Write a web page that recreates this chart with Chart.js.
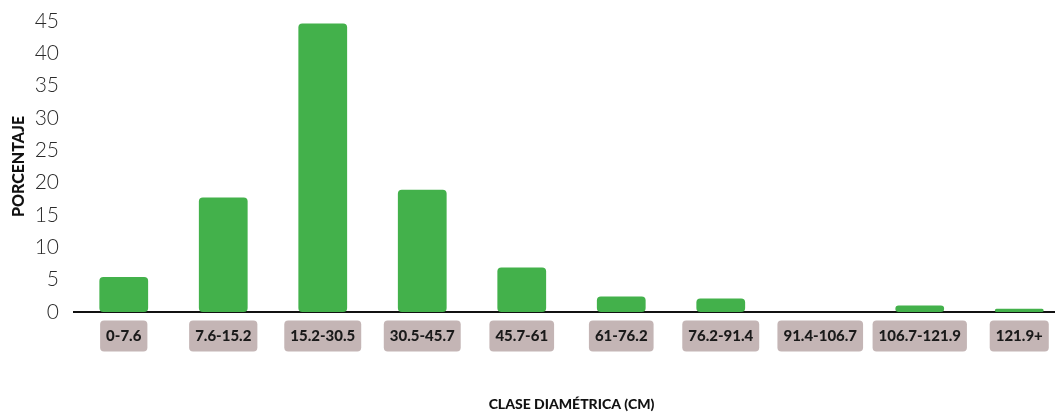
<!DOCTYPE html>
<html>
<head>
<meta charset="utf-8">
<script src="https://cdn.jsdelivr.net/npm/chart.js@4.4.0/dist/chart.umd.min.js"></script>
<style>
  html, body { margin: 0; padding: 0; background: #fff; overflow: hidden; }
  #wrap { width: 1055px; height: 413px; overflow: hidden; }
  #wrap div { width: 1069px; height: 413px; }
</style>
</head>
<body>
<div id="wrap"><div><canvas id="chart"></canvas></div></div>
<script>
// Distribución por clase diamétrica
const classes = ['0-7.6', '7.6-15.2', '15.2-30.5', '30.5-45.7', '45.7-61', '61-76.2', '76.2-91.4', '91.4-106.7', '106.7-121.9', '121.9+'];
const percentages = [5.4, 17.7, 44.6, 18.9, 6.9, 2.4, 2.1, 0, 1.0, 0.5];
const yTicks = [0, 5, 10, 15, 20, 25, 30, 35, 40, 45];

const TICK_PAD = 15;
const TICK_FONT = { family: 'Lato', size: 15, weight: '900' };

// rounded label boxes under the category ticks
const labelBoxes = {
    id: 'labelBoxes',
    beforeDraw(chart) {
        const scale = chart.scales.x;
        const ctx = chart.ctx;
        ctx.save();
        ctx.font = `${TICK_FONT.weight} ${TICK_FONT.size}px ${TICK_FONT.family}`;
        const cy = scale.top + TICK_PAD + TICK_FONT.size * 1.2 / 2;
        scale.ticks.forEach((tick, i) => {
            const label = classes[tick.value];
            const w = ctx.measureText(label).width + 12;
            const x = scale.getPixelForTick(i);
            ctx.fillStyle = '#c4b5b5';
            ctx.beginPath();
            ctx.roundRect(x - w / 2, cy - 15.5, w, 31, 4);
            ctx.fill();
        });
        ctx.restore();
    }
};

new Chart(document.getElementById('chart'), {
    type: 'bar',
    data: {
        labels: classes,
        datasets: [{
            data: percentages,
            backgroundColor: '#43b14b',
            borderRadius: 4,
            borderSkipped: false,
            barPercentage: 0.49,
            categoryPercentage: 1
        }]
    },
    options: {
        responsive: true,
        maintainAspectRatio: false,
        animation: false,
        layout: { padding: { top: 21, left: 0, right: 0, bottom: 0 } },
        plugins: {
            legend: { display: false },
            tooltip: { enabled: false }
        },
        scales: {
            x: {
                grid: { display: false, drawTicks: false },
                border: { display: true, color: '#111', width: 2 },
                ticks: {
                    color: '#1a1a1a',
                    font: TICK_FONT,
                    padding: TICK_PAD,
                    maxRotation: 0,
                    autoSkip: false
                },
                title: {
                    display: true,
                    text: 'CLASE DIAMÉTRICA (CM)',
                    color: '#111',
                    font: { family: 'Lato', size: 14, weight: '900' },
                    padding: { top: 40, bottom: 0 }
                },
                afterFit(scale) { scale.height = 101; }
            },
            y: {
                min: 0,
                max: 45,
                afterBuildTicks(scale) { scale.ticks = yTicks.map(v => ({ value: v })); },
                grid: { display: false },
                border: { display: false },
                ticks: {
                    color: '#2a2a2a',
                    font: { family: 'Lato', size: 21, weight: '300' },
                    padding: 7
                },
                title: {
                    display: true,
                    text: 'PORCENTAJE',
                    color: '#111',
                    font: { family: 'Lato', size: 16, weight: '900' },
                    padding: { top: 9, bottom: 0 }
                },
                afterFit(scale) { scale.width = 74; }
            }
        }
    },
    plugins: [labelBoxes]
});
</script>
</body>
</html>
